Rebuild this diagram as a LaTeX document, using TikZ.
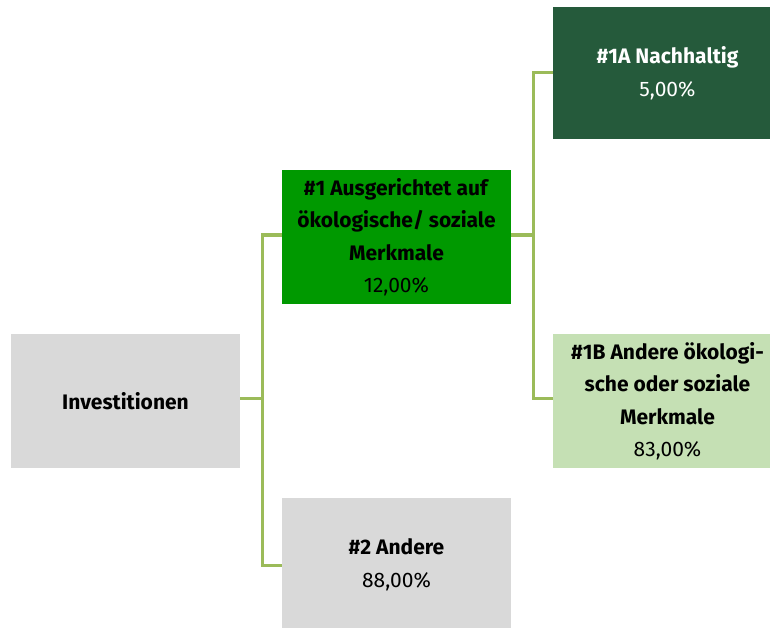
\documentclass[tikz,border=0pt]{standalone}
\usepackage{fontspec}
\setmainfont{Fira Sans}
\definecolor{lineg}{HTML}{9BBB59}
\definecolor{boxgray}{HTML}{D9D9D9}
\definecolor{midgreen}{HTML}{009900}
\definecolor{darkgreen}{HTML}{255A3B}
\definecolor{lightgreen}{HTML}{C5E0B4}
\begin{document}
\begin{tikzpicture}[x=1pt,y=-1pt,
  box/.style={minimum width=229pt, minimum height=134pt, inner sep=0pt, align=center,
    font=\fontsize{21}{32.5}\selectfont},
  conn/.style={draw=lineg, line width=3pt}]
\clip (0,0) rectangle (770,628);
\fill[white] (0,0) rectangle (770,628);
\node[box, fill=boxgray, minimum width=229pt] (inv) at (125.5,401) {\textbf{Investitionen}};
\node[box, fill=midgreen] (a1) at (396.5,237) {\textbf{\#1 Ausgerichtet auf}\\\textbf{ökologische/ soziale}\\\textbf{Merkmale}\\12,00\%};
\node[box, fill=boxgray] (a2) at (396.5,565) {\textbf{\#2 Andere}\\88,00\%};
\node[box, fill=darkgreen, text=white, minimum height=132pt] (b1) at (667.5,73) {\textbf{\#1A Nachhaltig}\\5,00\%};
\node[box, fill=lightgreen] (b2) at (667.5,401) {\textbf{\#1B Andere ökologi-}\\\textbf{sche oder soziale}\\\textbf{Merkmale}\\83,00\%};
\coordinate (jl) at (262,398);
\coordinate (jr) at (533,235);
\draw[conn] (inv.east |- jl) -- (jl);
\draw[conn] (a1.west |- jr) -| (jl) |- (a2.west);
\draw[conn] (a1.east |- jr) -- (jr);
\draw[conn] (b1.west) -| (jr) |- (b2.west |- jl);
\end{tikzpicture}
\end{document}
